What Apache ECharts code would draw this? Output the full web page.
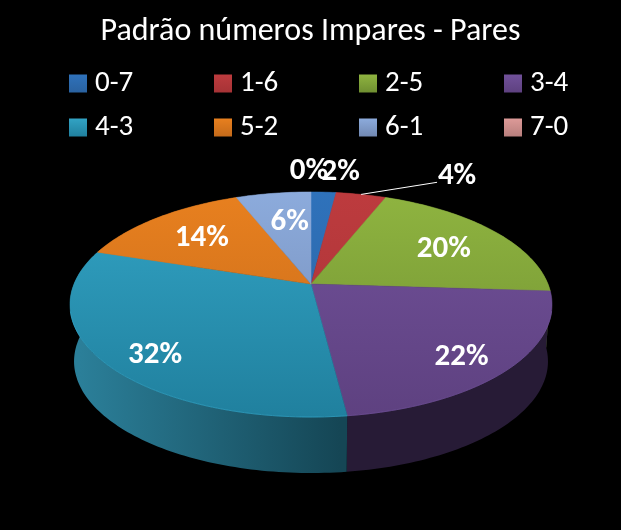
<!DOCTYPE html>
<html><head><meta charset="utf-8">
<style>html,body{margin:0;padding:0;background:#000}#c{width:621px;height:530px}</style>
<script src="https://cdn.jsdelivr.net/npm/echarts@6/dist/echarts.min.js"></script>
</head><body><div id="c"></div>
<script>
const titleText = 'Padrão números Impares - Pares';
const categories = ['0-7','1-6','2-5','3-4','4-3','5-2','6-1','7-0'];
const values = [2,4,20,22,32,14,6,0];
const topLight = ['#2f72bb','#bd3b3e','#8fb440','#71519a','#32a3c4','#e8801f','#8cabdc','#dd9a98'];
const topDark  = ['#2a62a0','#a63336','#6f8f31','#5e4180','#20809e','#c46a1a','#7289b3','#b87f7d'];
const wallLeft = ['#234f80','#7a2527','#55702a','#2b1f3d','#2b7f99','#a85a15','#5a7099','#8a5f5e'];
const wallRight= ['#1c4066','#5f1c1e','#4b6225','#271b36','#154655','#80440f','#465878','#6d4b4a'];
const labelR = [1.30,1.45,0.75,0.80,0.80,0.72,0.72,1.30];
const labelNudge = [[14,2],[78,14],[-7,6],[-3,7],[5,10],[5,3],[7,6],[-2,2]];
const uiFont = 'Carlito, Lato, sans-serif';

// Perspective ellipse projection of the pie's top and base
const cx = 311, k = 0.182;
const topFace = {y0:284, w:237, h:108.8};
const baseFace = {y0:341, w:233, h:108};
function project(face, ang, r){
  const u = r*Math.sin(ang), v = -r*Math.cos(ang), s = 1/(1-k*v);
  return [cx + face.w*u*s, face.y0 + face.h*v*s];
}
const total = values.reduce((a,b)=>a+b,0);
function angleRange(i){
  let sum = 0;
  for(let j=0;j<i;j++) sum += values[j];
  return [sum/total*2*Math.PI, (sum+values[i])/total*2*Math.PI];
}
function arc(face,a0,a1){
  const n = Math.max(2,Math.ceil((a1-a0)/0.02)), pts=[];
  for(let j=0;j<=n;j++) pts.push(project(face,a0+(a1-a0)*j/n,1));
  return pts;
}
function gradient(x,y,x2,y2,c0,c1){
  return {type:'linear',x,y,x2,y2,global:true,colorStops:[{offset:0,color:c0},{offset:1,color:c1}]};
}
function renderSlice(i){
  return function(){
    const [a0,a1] = angleRange(i), kids = [];
    if(a1>a0){
      const upper = arc(topFace,a0,a1), lower = arc(baseFace,a0,a1).reverse();
      kids.push({type:'polygon',z2:1,silent:true,shape:{points:upper.concat(lower)},
        style:{fill:gradient(80,0,340,0,wallLeft[i],wallRight[i])}});
      kids.push({type:'polygon',z2:2,silent:true,shape:{points:[[cx,topFace.y0]].concat(upper)},
        style:{fill:gradient(0,192,0,418,topLight[i],topDark[i]),stroke:gradient(0,192,0,418,topLight[i],topDark[i]),lineWidth:0.5}});
      // lighter rim where the top face meets the front wall
      const front=[];
      upper.forEach((p,j)=>{ if(p[1]>310) front.push(p); });
      if(front.length>1) kids.push({type:'polyline',z2:3,silent:true,shape:{points:front},
        style:{fill:'none',stroke:topLight[i],lineWidth:1,opacity:0.7}});
    }
    const mid=(a0+a1)/2, p=project(topFace,mid,labelR[i]);
    const lx=p[0]+labelNudge[i][0], ly=p[1]+labelNudge[i][1];
    if(labelR[i]>1 && values[i]>3){
      kids.push({type:'polyline',z2:4,silent:true,shape:{points:[project(topFace,mid,1),[lx-20,ly+6]]},
        style:{fill:'none',stroke:'#fff',lineWidth:1}});
    }
    kids.push({type:'text',z2:5,silent:true,style:{
      text:Math.round(values[i]/total*100)+'%',x:lx,y:ly,
      fill:'#fff',font:'bold 31px '+uiFont,align:'center',verticalAlign:'middle'}});
    return {type:'group',children:kids};
  };
}
const legendX = [64,209,354,499], legendY = [64,108];
const chart = echarts.init(document.getElementById('c'),null,{renderer:'canvas'});
chart.setOption({
  animation:false,
  backgroundColor:'#000',
  title:{text:titleText,left:'center',top:11,textStyle:{color:'#fff',fontFamily:uiFont,fontWeight:'normal',fontSize:32}},
  legend:categories.map((c,i)=>({
    data:[c],left:legendX[i%4],top:legendY[Math.floor(i/4)],itemWidth:18,itemHeight:18,itemGap:0,
    icon:'rect',selectedMode:false,textStyle:{color:'#fff',fontFamily:uiFont,fontSize:29,padding:[0,0,0,3]}
  })),
  series:categories.map((c,i)=>({
    type:'custom',name:c,coordinateSystem:'none',silent:true,
    data:[values[i]],
    itemStyle:{color:{type:'linear',x:0,y:0,x2:0,y2:1,colorStops:[{offset:0,color:topLight[i]},{offset:1,color:topDark[i]}]}},
    renderItem:renderSlice(i)
  }))
});
</script></body></html>
